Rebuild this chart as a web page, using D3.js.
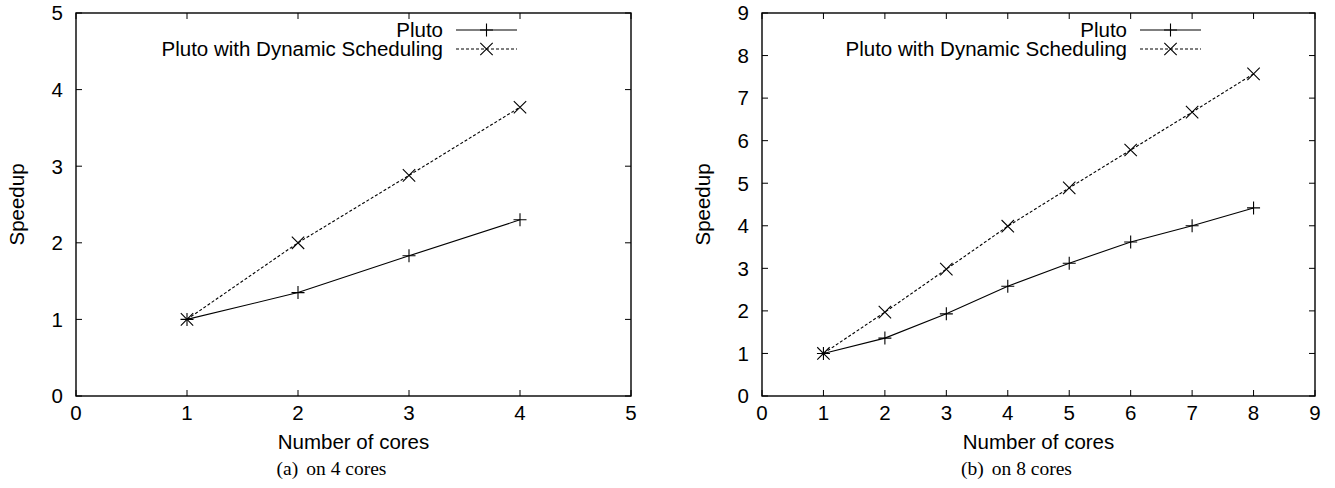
<!DOCTYPE html>
<html>
<head>
<meta charset="utf-8">
<script src="https://cdn.jsdelivr.net/npm/d3@7"></script>
<style>
  html, body { margin: 0; padding: 0; background: #fff; }
  svg { display: block; }
  .tick-label, .legend-text, .axis-title { font-family: "Liberation Sans", Arial, sans-serif; fill: #000; }
  .caption { font-family: "Liberation Serif", "Times New Roman", serif; fill: #000; }
</style>
</head>
<body>
<svg id="chart" width="1335" height="488"></svg>
<script>
/* Speedup of Pluto vs Pluto with dynamic scheduling */

const coresA = [1, 2, 3, 4];
const plutoA = [1, 1.35, 1.83, 2.3];
const dynamicA = [1, 2.0, 2.88, 3.77];
const xTicksA = [0, 1, 2, 3, 4, 5];
const yTicksA = [0, 1, 2, 3, 4, 5];

const coresB = [1, 2, 3, 4, 5, 6, 7, 8];
const plutoB = [1, 1.36, 1.93, 2.58, 3.12, 3.62, 4.0, 4.42];
const dynamicB = [1, 1.97, 2.98, 3.99, 4.89, 5.78, 6.67, 7.57];
const xTicksB = [0, 1, 2, 3, 4, 5, 6, 7, 8, 9];
const yTicksB = [0, 1, 2, 3, 4, 5, 6, 7, 8, 9];

const seriesNames = ['Pluto', 'Pluto with Dynamic Scheduling'];
const captionTags = ['(a)', '(b)'];
const captionTexts = ['on 4 cores', 'on 8 cores'];

const panels = [
  { left: 76, right: 631, x: coresA, ys: [plutoA, dynamicA], xTicks: xTicksA, yTicks: yTicksA, tag: captionTags[0], caption: captionTexts[0] },
  { left: 762, right: 1315, x: coresB, ys: [plutoB, dynamicB], xTicks: xTicksB, yTicks: yTicksB, tag: captionTags[1], caption: captionTexts[1] },
];

const TOP = 13, BOTTOM = 396, TICK = 6, FS = 20.5;
const svg = d3.select('#chart');

function drawMarker(g, kind, cx, cy) {
  const s = 6.5;
  if (kind === 0) {
    g.append('path').attr('d', `M${cx - s},${cy}H${cx + s}M${cx},${cy - s}V${cy + s}`)
      .attr('stroke', '#000').attr('stroke-width', 1.1);
  } else {
    const d = 6.2;
    g.append('path').attr('d', `M${cx - d},${cy - d}L${cx + d},${cy + d}M${cx - d},${cy + d}L${cx + d},${cy - d}`)
      .attr('stroke', '#000').attr('stroke-width', 1.1);
  }
}

function renderPanel(p) {
  const g = svg.append('g');
  const xMax = p.xTicks[p.xTicks.length - 1];
  const yMax = p.yTicks[p.yTicks.length - 1];
  const x = d3.scaleLinear().domain([0, xMax]).range([p.left, p.right]);
  const y = d3.scaleLinear().domain([0, yMax]).range([BOTTOM, TOP]);

  // mirrored inward ticks, gnuplot style
  p.xTicks.forEach(t => {
    g.append('path').attr('d', `M${x(t)},${BOTTOM}v${-TICK}M${x(t)},${TOP}v${TICK}`)
      .attr('stroke', '#000').attr('stroke-width', 1);
    g.append('text').attr('class', 'tick-label').attr('x', x(t)).attr('y', BOTTOM + 24)
      .attr('text-anchor', 'middle').attr('font-size', FS).text(t);
  });
  p.yTicks.forEach(t => {
    g.append('path').attr('d', `M${p.left},${y(t)}h${TICK}M${p.right},${y(t)}h${-TICK}`)
      .attr('stroke', '#000').attr('stroke-width', 1);
    g.append('text').attr('class', 'tick-label').attr('x', p.left - 13).attr('y', y(t) + 7.3)
      .attr('text-anchor', 'end').attr('font-size', FS).text(t);
  });

  g.append('rect').attr('x', p.left).attr('y', TOP)
    .attr('width', p.right - p.left).attr('height', BOTTOM - TOP)
    .attr('fill', 'none').attr('stroke', '#000').attr('stroke-width', 1.4);

  const line = d3.line().x(d => x(d[0])).y(d => y(d[1]));
  p.ys.forEach((vals, k) => {
    const pts = p.x.map((c, i) => [c, vals[i]]);
    g.append('path').attr('d', line(pts)).attr('fill', 'none')
      .attr('stroke', '#000').attr('stroke-width', 1.1)
      .attr('stroke-dasharray', k === 1 ? '3,2' : null);
    pts.forEach(d => drawMarker(g, k, x(d[0]), y(d[1])));
  });

  // legend, top right
  const legLine = p.right - 175;
  seriesNames.forEach((name, k) => {
    const ly = 30 + k * 19;
    g.append('text').attr('class', 'legend-text').attr('x', legLine - 13).attr('y', ly + 7.3)
      .attr('text-anchor', 'end').attr('font-size', FS).text(name);
    g.append('path').attr('d', `M${legLine},${ly}h61`).attr('stroke', '#000')
      .attr('stroke-width', 1.1).attr('stroke-dasharray', k === 1 ? '3,2' : null);
    drawMarker(g, k, legLine + 30.5, ly);
  });

  const midX = (p.left + p.right) / 2;
  g.append('text').attr('class', 'axis-title').attr('x', midX).attr('y', 449)
    .attr('text-anchor', 'middle').attr('font-size', FS).text('Number of cores');
  g.append('text').attr('class', 'axis-title')
    .attr('transform', `translate(${p.left - 52.5},${(TOP + BOTTOM) / 2}) rotate(-90)`)
    .attr('text-anchor', 'middle').attr('font-size', FS).text('Speedup');

  const cap = g.append('text').attr('class', 'caption').attr('x', midX - 22).attr('y', 475)
    .attr('text-anchor', 'middle').attr('font-size', 19.5);
  cap.append('tspan').text(p.tag);
  cap.append('tspan').attr('dx', 8).text(p.caption);
}

panels.forEach(renderPanel);
</script>
</body>
</html>
